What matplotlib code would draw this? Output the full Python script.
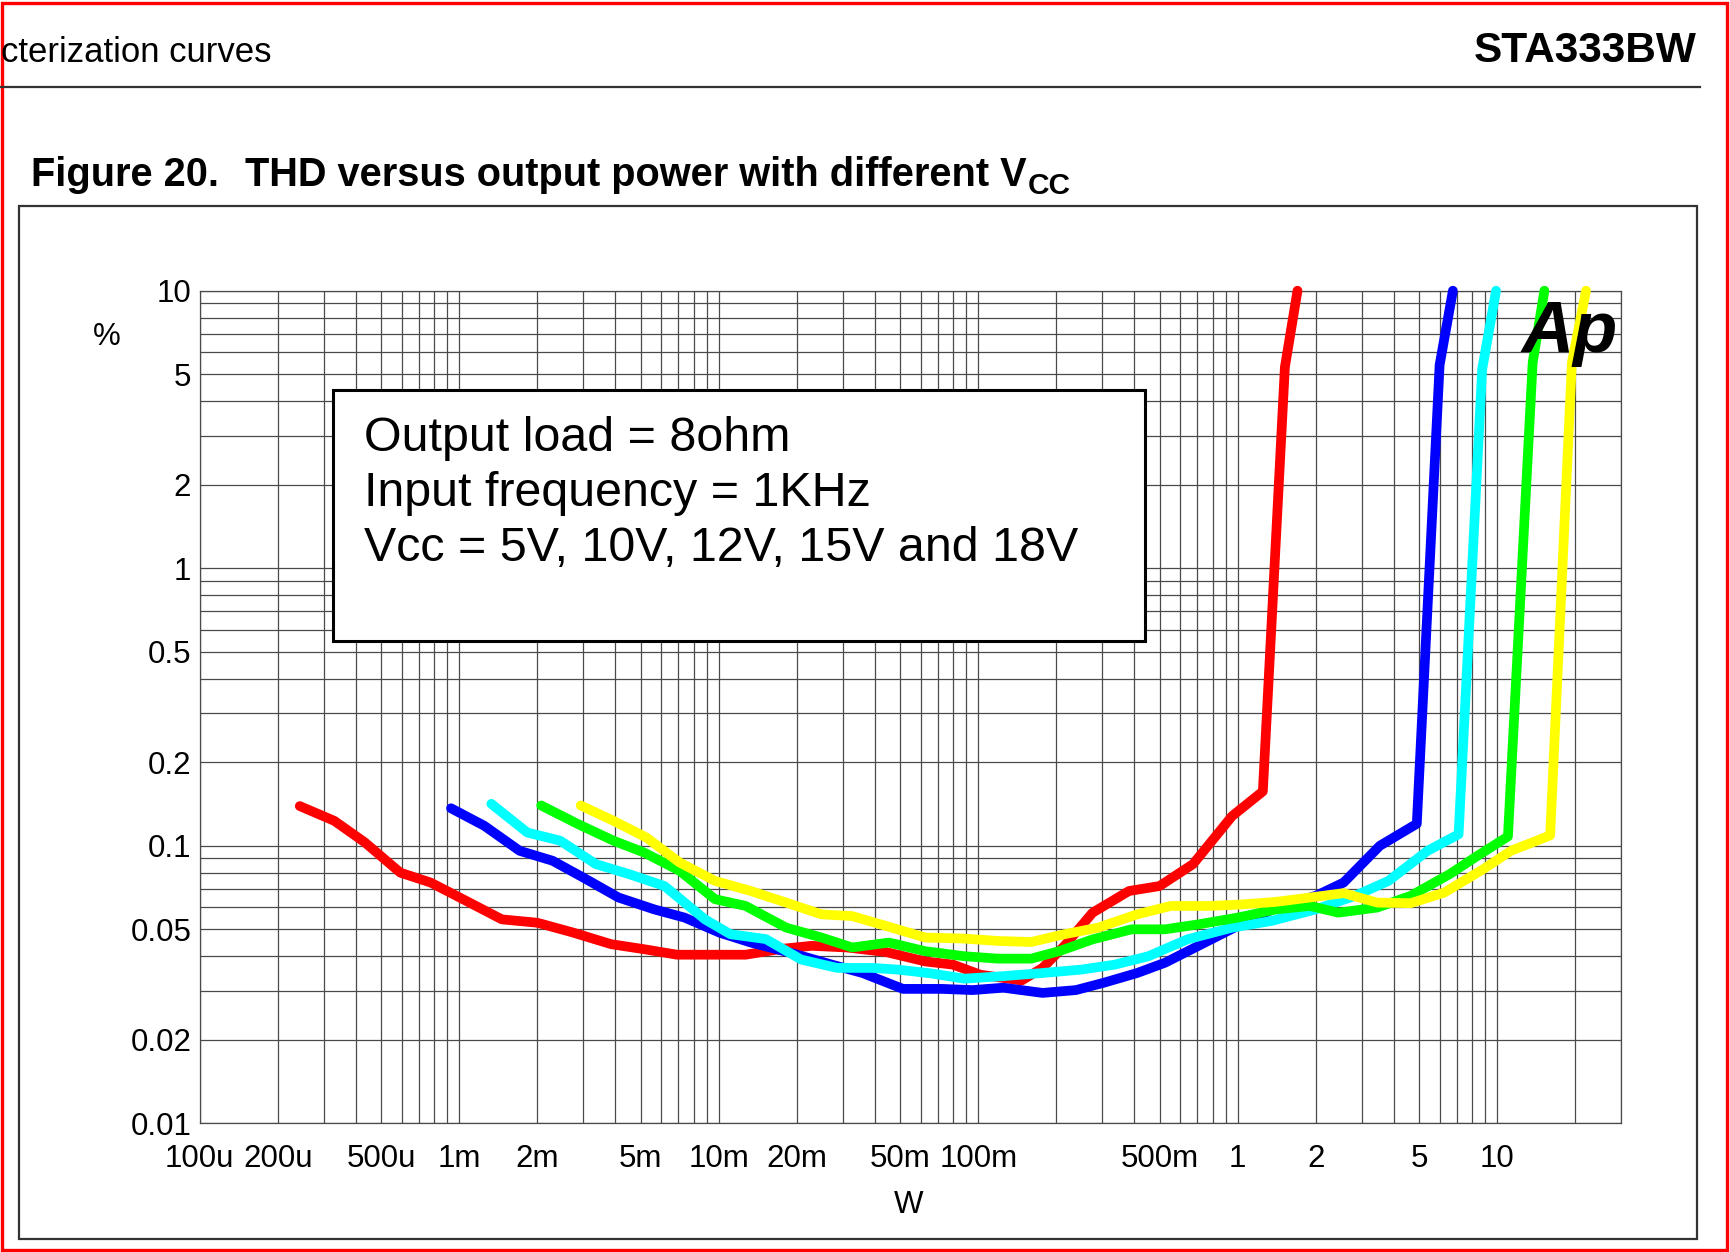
import matplotlib
matplotlib.use('Agg')
import matplotlib.pyplot as plt
from matplotlib.patches import Rectangle
from matplotlib.lines import Line2D
import numpy as np

plt.rcParams['font.family'] = ['Liberation Sans', 'DejaVu Sans']

# ---------------- data ----------------
vcc_labels = ['5V', '10V', '12V', '15V', '18V']
colors = ['#ff0000', '#0000ff', '#00ffff', '#00ff00', '#ffff00']

p_5v = [0.243e-3, 0.33e-3, 0.432e-3, 0.593e-3, 0.776e-3, 1.064e-3, 1.46e-3, 2.0e-3,
        2.74e-3, 3.85e-3, 5.15e-3, 6.91e-3, 9.27e-3, 12.7e-3, 17.4e-3, 22.8e-3,
        31.3e-3, 44.2e-3, 62.5e-3, 80e-3, 102e-3, 147e-3, 177e-3, 215e-3, 276e-3,
        381e-3, 0.500, 0.673, 0.952, 1.25, 1.52, 1.70]
thd_5v = [0.139, 0.123, 0.103, 0.080, 0.0737, 0.0633, 0.0543, 0.0528,
          0.0487, 0.0442, 0.0424, 0.0405, 0.0405, 0.0405, 0.0425, 0.0436,
          0.0430, 0.0414, 0.0383, 0.0373, 0.0343, 0.0327, 0.0363, 0.0436, 0.0574,
          0.0687, 0.0716, 0.0859, 0.128, 0.157, 5.3, 10.0]

p_10v = [0.93e-3, 1.25e-3, 1.71e-3, 2.29e-3, 3.0e-3, 4.11e-3, 5.64e-3, 7.39e-3,
         10.1e-3, 13.3e-3, 19.0e-3, 27.3e-3, 35.8e-3, 51.3e-3, 72.5e-3, 95e-3,
         125e-3, 177e-3, 238e-3, 305e-3, 410e-3, 525e-3, 0.706, 1.0, 1.41, 2.0,
         2.56, 3.53, 4.9, 6.0, 6.75]
thd_10v = [0.1365, 0.118, 0.0959, 0.0883, 0.0769, 0.0651, 0.0590, 0.0551,
           0.0486, 0.0448, 0.0411, 0.0373, 0.0348, 0.0305, 0.0305, 0.0302,
           0.0308, 0.0295, 0.0302, 0.0321, 0.0348, 0.0379, 0.0436, 0.0514, 0.0599, 0.0660,
           0.0737, 0.100, 0.120, 5.4, 10.0]

p_12v = [1.33e-3, 1.83e-3, 2.45e-3, 3.36e-3, 4.50e-3, 6.18e-3, 7.39e-3, 8.85e-3,
         11.1e-3, 15.2e-3, 20.8e-3, 28.6e-3, 39.2e-3, 48.8e-3, 65.6e-3, 88.3e-3,
         125e-3, 177e-3, 250e-3, 336e-3, 453e-3, 0.640, 0.952, 1.35, 2.0, 2.83,
         3.81, 5.39, 7.1, 8.75, 9.9]
thd_12v = [0.1416, 0.1116, 0.1043, 0.0859, 0.0791, 0.0716, 0.0624, 0.0543,
           0.0480, 0.0461, 0.0389, 0.0363, 0.0363, 0.0358, 0.0347, 0.0332,
           0.0339, 0.0348, 0.0358, 0.0373, 0.0400, 0.0460, 0.0507, 0.0536, 0.0590, 0.0660,
           0.0747, 0.0959, 0.110, 5.2, 10.0]

p_15v = [2.07e-3, 2.87e-3, 3.93e-3, 5.15e-3, 7.06e-3, 9.68e-3, 12.7e-3, 18.2e-3,
         24.9e-3, 32.7e-3, 45.3e-3, 62.5e-3, 88.3e-3, 119e-3, 160e-3, 205e-3,
         276e-3, 390e-3, 525e-3, 0.706, 1.0, 1.41, 1.90, 2.44, 3.45, 4.64,
         6.57, 8.41, 11.0, 13.7, 15.2]
thd_15v = [0.1397, 0.1197, 0.1043, 0.0946, 0.0813, 0.0642, 0.0607, 0.0507,
           0.0467, 0.0430, 0.0448, 0.0417, 0.0400, 0.0392, 0.0392, 0.0417,
           0.0460, 0.0500, 0.0500, 0.0521, 0.0551, 0.0590, 0.0607, 0.0574, 0.0599, 0.0660,
           0.0791, 0.0921, 0.108, 5.5, 10.0]

p_18v = [2.94e-3, 3.93e-3, 5.27e-3, 7.06e-3, 9.68e-3, 13.3e-3, 18.2e-3, 24.9e-3,
         32.7e-3, 44.2e-3, 62.5e-3, 88.3e-3, 119e-3, 160e-3, 215e-3, 290e-3,
         410e-3, 0.552, 0.780, 1.05, 1.41, 1.90, 2.56, 3.45, 4.64, 6.25,
         8.84, 11.3, 16.0, 19.4, 22.0]
thd_18v = [0.1397, 0.123, 0.107, 0.0871, 0.0747, 0.0687, 0.0624, 0.0566,
           0.0558, 0.0514, 0.0467, 0.0463, 0.0454, 0.0450, 0.0480, 0.0507,
           0.0566, 0.0607, 0.0607, 0.0615, 0.0628, 0.0651, 0.0675, 0.0624, 0.0621, 0.0678,
           0.0824, 0.0959, 0.109, 5.5, 10.0]

x_tick_values = [1e-4, 2e-4, 5e-4, 1e-3, 2e-3, 5e-3, 1e-2, 2e-2, 5e-2, 0.1, 0.5, 1, 2, 5, 10]
x_tick_labels = ['100u', '200u', '500u', '1m', '2m', '5m', '10m', '20m', '50m', '100m',
                 '500m', '1', '2', '5', '10']
y_tick_values = [0.01, 0.02, 0.05, 0.1, 0.2, 0.5, 1, 2, 5, 10]
y_tick_labels = ['0.01', '0.02', '0.05', '0.1', '0.2', '0.5', '1', '2', '5', '10']

box_lines = ['Output load = 8ohm', 'Input frequency = 1KHz', 'Vcc = 5V, 10V, 12V, 15V and 18V']

# ---------------- figure ----------------
W, H = 1730, 1252
fig = plt.figure(figsize=(W / 100, H / 100), dpi=100)
fig.patch.set_facecolor('white')


def fx(px):
    return px / W


def fy(py):
    return 1 - py / H


L, R, T, B = 199.7, 1621.0, 290.7, 1123.3
ax = fig.add_axes([fx(L), fy(B), fx(R) - fx(L), fy(T) - fy(B)])
ax.set_xscale('log')
ax.set_yscale('log')
ax.set_xlim(1e-4, 30)
ax.set_ylim(0.01, 10)

gridc = '#4a4a4a'
xgrid = [k * 10.0 ** n for n in range(-4, 2) for k in range(1, 10) if k * 10.0 ** n <= 30.0001]
ygrid = [k * 10.0 ** n for n in range(-2, 1) for k in range(1, 10)] + [10.0]


def lab(v, vals, labs):
    for tv, tl in zip(vals, labs):
        if np.isclose(v, tv, rtol=1e-6):
            return tl
    return ''


ax.set_xticks(xgrid)
ax.set_xticklabels([lab(v, x_tick_values, x_tick_labels) for v in xgrid])
ax.set_yticks(ygrid)
ax.set_yticklabels([lab(v, y_tick_values, y_tick_labels) for v in ygrid])
ax.set_xticks([], minor=True)
ax.set_yticks([], minor=True)
ax.tick_params(axis='both', length=0, labelsize=22.5, labelcolor='black')
ax.tick_params(axis='x', pad=15)
ax.tick_params(axis='y', pad=6)
ax.grid(True, which='major', color=gridc, lw=0.9)
for s in ax.spines.values():
    s.set_color(gridc)
    s.set_linewidth(0.9)
ax.set_axisbelow(True)

series = [(p_5v, thd_5v), (p_10v, thd_10v), (p_12v, thd_12v), (p_15v, thd_15v), (p_18v, thd_18v)]
for (px, py), c, lb in zip(series, colors, vcc_labels):
    ax.plot(px, py, color=c, lw=7.0, solid_capstyle='round', solid_joinstyle='round',
            zorder=3, clip_on=False, label=lb)

# text box
box = Rectangle((fx(333), fy(641)), fx(1145) - fx(333), fy(390) - fy(641),
                transform=fig.transFigure, facecolor='white', edgecolor='black',
                lw=2.2, zorder=2.5)
ax.add_patch(box)
for i, t in enumerate(box_lines):
    fig.text(fx(364), fy(450.7 + 55 * i), t, fontsize=34.8, ha='left', va='baseline',
             color='black', zorder=5)

# Ap logo
fig.text(fx(1521), fy(352), 'Ap', fontsize=52, fontweight='heavy', fontstyle='italic',
         ha='left', va='baseline', color='black', zorder=6)

# axis labels
fig.text(fx(107), fy(337), '%', fontsize=22.5, ha='center', va='center')
fig.text(fx(909), fy(1205), 'W', fontsize=22.5, ha='center', va='center')

# header
fig.text(fx(1), fy(61.7), 'cterization curves', fontsize=25, ha='left', va='baseline')
fig.text(fx(1697), fy(61.7), 'STA333BW', fontsize=30.5, fontweight='bold', ha='right',
         va='baseline')
fig.add_artist(Line2D([fx(0), fx(1700)], [fy(86.7), fy(86.7)], transform=fig.transFigure,
                      color='#333333', lw=1.6))

# title
fig.text(fx(31), fy(186), 'Figure 20.', fontsize=28.6, fontweight='bold', ha='left',
         va='baseline')
tmain = fig.text(fx(245), fy(186), 'THD versus output power with different V', fontsize=28.6,
                 fontweight='bold', ha='left', va='baseline')
fig.canvas.draw()
bb = tmain.get_window_extent()
fig.text(bb.x1 / W + 0.0008, fy(194), 'CC', fontsize=21.5, fontweight='bold', ha='left',
         va='baseline')

# chart frame
fig.add_artist(Rectangle((fx(19), fy(1239)), fx(1697) - fx(19), fy(206) - fy(1239),
                         transform=fig.transFigure, facecolor='none', edgecolor='#333333',
                         lw=1.6))
# outer red border
fig.add_artist(Rectangle((0.001, 0.0015), 0.997, 0.996, transform=fig.transFigure,
                         facecolor='none', edgecolor='#ff0000', lw=2.4))

fig.savefig('out.png', dpi=100, facecolor='white')
